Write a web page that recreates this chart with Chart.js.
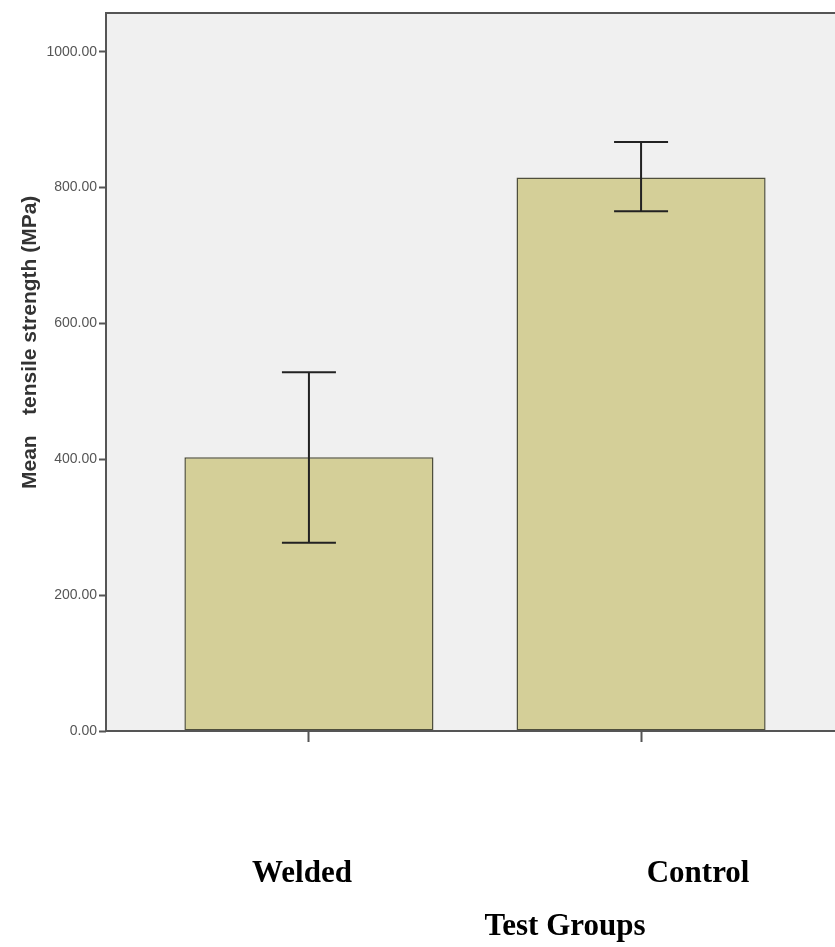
<!DOCTYPE html>
<html>
<head>
<meta charset="utf-8">
<script src="https://cdn.jsdelivr.net/npm/chart.js@4/dist/chart.umd.min.js"></script>
<style>
  html, body { margin: 0; padding: 0; background: #ffffff; overflow: hidden; }
  #wrap { width: 835px; height: 947px; overflow: hidden; position: relative; }
  #box { width: 850px; height: 947px; position: absolute; left: 0; top: 0; }
</style>
</head>
<body>
<div id="wrap"><div id="box"><canvas id="c"></canvas></div></div>
<script>
const categories = ["Welded", "Control"];
const meanValues = [403, 815];
const errorLow = [277, 765];
const errorHigh = [528, 867];
const yTickValues = [0, 200, 400, 600, 800, 1000];
const yAxisTitleParts = ["Mean", "tensile strength (MPa)"];
const xAxisTitle = "Test Groups";

const plotBg = {
  id: 'plotBg',
  beforeDraw(chart) {
    const { ctx, chartArea: a } = chart;
    ctx.save();
    ctx.fillStyle = '#f0f0f0';
    ctx.fillRect(a.left, a.top, a.right - a.left, a.bottom - a.top);
    ctx.restore();
  },
  afterDatasetsDraw(chart) {
    const { ctx, chartArea: a } = chart;
    ctx.save();
    ctx.strokeStyle = '#555555';
    ctx.lineWidth = 2;
    ctx.strokeRect(a.left, a.top, a.right - a.left, a.bottom - a.top);
    ctx.restore();
  }
};

const errorBars = {
  id: 'errorBars',
  afterDatasetsDraw(chart) {
    const { ctx } = chart;
    const meta = chart.getDatasetMeta(0);
    const ys = chart.scales.y;
    ctx.save();
    ctx.strokeStyle = '#222222';
    ctx.lineWidth = 2;
    meta.data.forEach((bar, i) => {
      const x = bar.x;
      const yHi = ys.getPixelForValue(errorHigh[i]);
      const yLo = ys.getPixelForValue(errorLow[i]);
      const cap = 27;
      ctx.beginPath();
      ctx.moveTo(x, yHi); ctx.lineTo(x, yLo);
      ctx.moveTo(x - cap, yHi); ctx.lineTo(x + cap, yHi);
      ctx.moveTo(x - cap, yLo); ctx.lineTo(x + cap, yLo);
      ctx.stroke();
    });
    ctx.restore();
  }
};

const textLabels = {
  id: 'textLabels',
  afterDraw(chart) {
    const { ctx } = chart;
    const xs = chart.scales.x;
    ctx.save();
    ctx.fillStyle = '#000000';
    ctx.font = 'bold 31px "Liberation Serif", "Times New Roman", serif';
    ctx.textAlign = 'center';
    ctx.textBaseline = 'alphabetic';
    const offsets = [-7, 57];
    categories.forEach((c, i) => {
      ctx.fillText(c, xs.getPixelForValue(i) + offsets[i], 882);
    });
    ctx.fillText(xAxisTitle, 565, 935);
    ctx.fillStyle = '#333333';
    ctx.font = 'bold 21px "Liberation Sans", Arial, sans-serif';
    ctx.translate(36, 0);
    ctx.rotate(-Math.PI / 2);
    ctx.textBaseline = 'alphabetic';
    ctx.textAlign = 'left';
    ctx.fillText(yAxisTitleParts[0], -489, 0);
    ctx.fillText(yAxisTitleParts[1], -415, 0);
    ctx.restore();
  }
};

new Chart(document.getElementById('c'), {
  type: 'bar',
  data: {
    datasets: [{
      data: categories.map((c, i) => ({ x: i, y: meanValues[i] })),
      backgroundColor: '#d4cf98',
      borderColor: '#4f4f3c',
      borderWidth: 1.5,
      borderSkipped: false,
      barPercentage: 0.75,
      categoryPercentage: 1.0
    }]
  },
  options: {
    responsive: true,
    maintainAspectRatio: false,
    animation: false,
    layout: { padding: { top: 13, right: 6, left: 0, bottom: 0 } },
    plugins: { legend: { display: false }, tooltip: { enabled: false } },
    scales: {
      x: {
        type: 'linear',
        offset: false,
        min: -0.611,
        max: 1.611,
        afterBuildTicks(s) { s.ticks = categories.map((c, i) => ({ value: i })); },
        afterFit(s) { s.height = 947 - 731; },
        ticks: { callback: () => '', font: { size: 10 } },
        grid: { offset: false, drawOnChartArea: false, drawTicks: true, tickLength: 11, tickColor: '#555555', tickWidth: 2 },
        border: { display: false }
      },
      y: {
        min: 0,
        max: 1057,
        afterBuildTicks(s) { s.ticks = yTickValues.map(v => ({ value: v })); },
        afterFit(s) { s.width = 106; },
        ticks: {
          callback: v => Number(v).toFixed(2),
          color: '#555555',
          padding: 2,
          font: { family: '"Liberation Sans", Arial, sans-serif', size: 14 }
        },
        grid: { drawOnChartArea: false, drawTicks: true, tickLength: 7, tickColor: '#555555', tickWidth: 2 },
        border: { display: false }
      }
    }
  },
  plugins: [plotBg, errorBars, textLabels]
});
</script>
</body>
</html>
